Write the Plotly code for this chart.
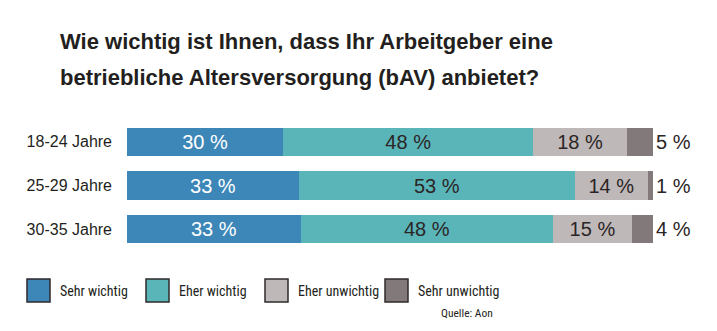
import plotly.graph_objects as go

# Survey data: share of respondents per answer, by age group
age_groups = ["18-24 Jahre", "25-29 Jahre", "30-35 Jahre"]
answers = ["Sehr wichtig", "Eher wichtig", "Eher unwichtig", "Sehr unwichtig"]
sehr_wichtig = [30, 33, 33]
eher_wichtig = [48, 53, 48]
eher_unwichtig = [18, 14, 15]
sehr_unwichtig = [5, 1, 4]

title_lines = [
    "Wie wichtig ist Ihnen, dass Ihr Arbeitgeber eine",
    "betriebliche Altersversorgung (bAV) anbietet?",
]
source_text = "Quelle: Aon"

series = [sehr_wichtig, eher_wichtig, eher_unwichtig, sehr_unwichtig]
colors = ["#3d87b8", "#5ab5b9", "#bfb8b8", "#827a7a"]
text_colors = ["#ffffff", "#2b2526", "#2b2526", "#2b2526"]

FONT = "Liberation Sans, Arial, sans-serif"
NARROW = "Roboto Condensed, DejaVu Sans Condensed, Liberation Sans, sans-serif"

W, H = 717, 331
ML, MR, MT, MB = 127, 64, 120, 80
PW, PH = W - ML - MR, H - MT - MB


def px_x(x):
    return (x - ML) / PW


def px_y(y):
    return (H - MB - y) / PH


fig = go.Figure()
for i, (name, vals) in enumerate(zip(answers, series)):
    last = i == len(series) - 1
    fig.add_trace(go.Bar(
        name=name,
        y=age_groups,
        x=vals,
        orientation="h",
        marker=dict(color=colors[i], line=dict(width=0)),
        text=[f"{v} %" for v in vals],
        textposition="outside" if last else "inside",
        insidetextanchor="middle",
        textangle=0,
        textfont=dict(family=FONT, size=20, color=text_colors[i]),
        outsidetextfont=dict(family=FONT, size=20, color="#2b2526"),
        cliponaxis=False,
        showlegend=False,
        hoverinfo="skip",
    ))

annotations = []
# Title, two lines
for k, line in enumerate(title_lines):
    annotations.append(dict(
        text=f"<b>{line}</b>", xref="paper", yref="paper",
        x=px_x(58), y=px_y(41 + 36 * k), xanchor="left", yanchor="middle",
        showarrow=False,
        font=dict(family=FONT, size=22, color="#231f20"),
    ))

# Legend drawn as boxes with labels
shapes = []
legend_x = [27, 146, 265, 385]
for name, col, lx in zip(answers, colors, legend_x):
    shapes.append(dict(
        type="rect", xref="paper", yref="paper",
        x0=px_x(lx), x1=px_x(lx + 23), y0=px_y(302), y1=px_y(279),
        fillcolor=col, line=dict(color="#2f2a2b", width=1.5), layer="above",
    ))
    annotations.append(dict(
        text=name, xref="paper", yref="paper",
        x=px_x(lx + 31), y=px_y(290.5), xanchor="left", yanchor="middle",
        showarrow=False,
        font=dict(family=NARROW, size=14, color="#231f20"),
    ))

annotations.append(dict(
    text=source_text, xref="paper", yref="paper",
    x=px_x(495), y=px_y(313), xanchor="right", yanchor="middle",
    showarrow=False,
    font=dict(family=NARROW, size=11.5, color="#231f20"),
))

fig.update_layout(
    width=W, height=H,
    margin=dict(l=ML, r=MR, t=MT, b=MB, pad=0),
    barmode="stack",
    barnorm="percent",
    bargap=0.356,
    plot_bgcolor="white",
    paper_bgcolor="white",
    uniformtext=dict(minsize=20, mode="show"),
    annotations=annotations,
    shapes=shapes,
    xaxis=dict(range=[0, 100], visible=False, fixedrange=True),
    yaxis=dict(
        autorange="reversed",
        showgrid=False, zeroline=False, showline=False,
        ticks="", ticklabelstandoff=14,
        tickfont=dict(family=FONT, size=16, color="#231f20"),
    ),
)

fig.write_html("out.html")
